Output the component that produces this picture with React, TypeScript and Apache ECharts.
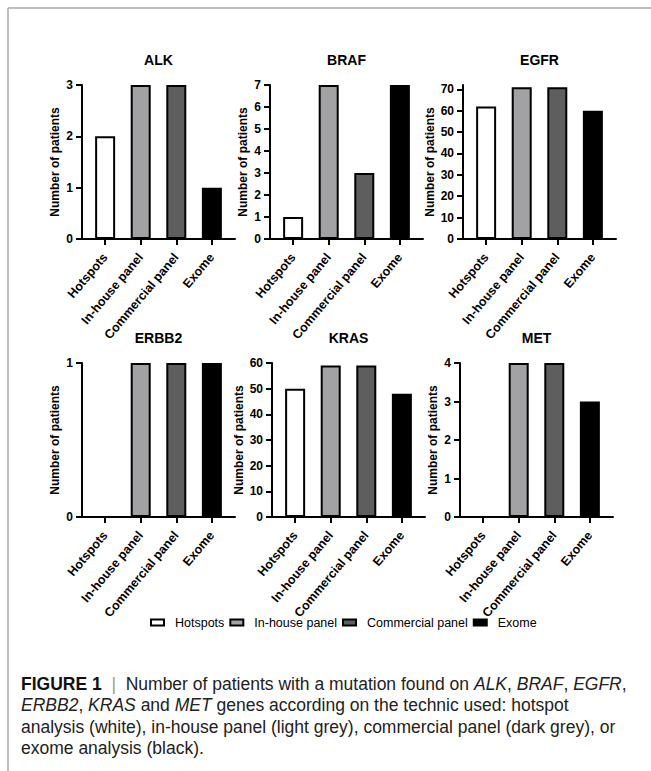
import React, { useEffect, useRef } from "react";
import * as echarts from "echarts";

const methods = ["Hotspots", "In-house panel", "Commercial panel", "Exome"];
const genes = ["ALK", "BRAF", "EGFR", "ERBB2", "KRAS", "MET"];
const alkValues = [2, 3, 3, 1];
const brafValues = [1, 7, 3, 7];
const egfrValues = [62, 71, 71, 60];
const erbb2Values = [0, 1, 1, 1];
const krasValues = [50, 59, 59, 48];
const metValues = [0, 4, 4, 3];
const yMaxes = [3, 7, 72, 1, 60, 4];
const alkTicks = [0, 1, 2, 3];
const brafTicks = [0, 1, 2, 3, 4, 5, 6, 7];
const egfrTicks = [0, 10, 20, 30, 40, 50, 60, 70];
const erbb2Ticks = [0, 1];
const krasTicks = [0, 10, 20, 30, 40, 50, 60];
const metTicks = [0, 1, 2, 3, 4];
const captionLines = [
  "{b|FIGURE 1}  {g||}  Number of patients with a mutation found on {i|ALK}, {i|BRAF}, {i|EGFR},",
  "{i|ERBB2}, {i|KRAS} and {i|MET} genes according on the technic used: hotspot",
  "analysis (white), in-house panel (light grey), commercial panel (dark grey), or",
  "exome analysis (black).",
];

const values = [alkValues, brafValues, egfrValues, erbb2Values, krasValues, metValues];
const ticks = [alkTicks, brafTicks, egfrTicks, erbb2Ticks, krasTicks, metTicks];
const colors = ["#ffffff", "#a2a2a5", "#5e5e5e", "#000000"];
const panelLeft = [82, 270, 463, 82, 272, 460];
const panelTop = [85, 85, 85, 363, 363, 363];
const panelW = 153;
const panelH = 154;
const FONT = "'Liberation Sans', Arial, sans-serif";
const CAP = 17.5;

export default function App() {
  const ref = useRef<HTMLDivElement>(null);
  useEffect(() => {
    document.body.style.margin = "0";
    const chart = echarts.init(ref.current!, null, { renderer: "svg" });
    const grids: any[] = [];
    const xAxes: any[] = [];
    const yAxes: any[] = [];
    const titles: any[] = [];
    const series: any[] = [];
    genes.forEach((g, p) => {
      grids.push({ left: panelLeft[p], top: panelTop[p], width: panelW, height: panelH });
      titles.push({
        text: g,
        left: panelLeft[p] + panelW / 2,
        top: panelTop[p] - 32,
        textAlign: "center",
        padding: 0,
        textStyle: { fontFamily: FONT, fontWeight: "bold", fontSize: 14, color: "#000" },
      });
      xAxes.push({
        type: "value",
        gridIndex: p,
        min: -0.65,
        max: 3.65,
        splitLine: { show: false },
        axisLine: { show: true, onZero: false, lineStyle: { color: "#000", width: 2 } },
        axisTick: { show: true, length: 6, lineStyle: { color: "#000", width: 2 }, customValues: [0, 1, 2, 3] },
        axisLabel: {
          customValues: [0, 1, 2, 3],
          rotate: 50,
          margin: 16,
          fontFamily: FONT,
          fontWeight: "bold",
          fontSize: 12.5,
          color: "#000",
          formatter: (v: number) => methods[Math.round(v)] ?? "",
        },
      });
      yAxes.push({
        type: "value",
        gridIndex: p,
        min: 0,
        max: yMaxes[p],
        splitLine: { show: false },
        axisLine: { show: true, onZero: false, lineStyle: { color: "#000", width: 2 } },
        axisTick: { show: true, length: 6, lineStyle: { color: "#000", width: 2 }, customValues: ticks[p] },
        axisLabel: {
          customValues: ticks[p],
          margin: 9,
          fontFamily: FONT,
          fontWeight: "bold",
          fontSize: 12,
          color: "#000",
        },
        name: "Number of patients",
        nameLocation: "middle",
        nameGap: p === 2 || p === 4 ? 27 : 21,
        nameTextStyle: { fontFamily: FONT, fontWeight: "bold", fontSize: 12, color: "#000" },
      });
      methods.forEach((m, k) => {
        series.push({
          type: "bar",
          name: m,
          xAxisIndex: p,
          yAxisIndex: p,
          barWidth: 20,
          barGap: "-100%",
          data: [[k, values[p][k]]],
          itemStyle: { color: colors[k], borderColor: "#000", borderWidth: 2 },
        });
      });
    });

    const captionRich = {
      b: { fontFamily: FONT, fontSize: CAP, fontWeight: "bold", fill: "#111" },
      i: { fontFamily: FONT, fontSize: CAP, fontStyle: "italic", fill: "#222" },
      g: { fontFamily: FONT, fontSize: CAP, fill: "#999" },
    };
    const graphics: any[] = [
      { type: "line", shape: { x1: 8, y1: 8, x2: 651, y2: 8 }, style: { stroke: "#aaa", lineWidth: 1.5 } },
      { type: "line", shape: { x1: 8, y1: 8, x2: 8, y2: 771 }, style: { stroke: "#aaa", lineWidth: 1.5 } },
    ];
    captionLines.forEach((line, i) => {
      graphics.push({
        type: "text",
        x: 21,
        y: 684 + i * 21.3,
        style: {
          text: line,
          fontFamily: FONT,
          fontSize: CAP,
          fill: "#222",
          verticalAlign: "middle",
          rich: captionRich,
        },
      });
    });

    chart.setOption({
      animation: false,
      backgroundColor: "#fff",
      title: titles,
      grid: grids,
      xAxis: xAxes,
      yAxis: yAxes,
      series,
      legend: {
        data: methods,
        left: 150,
        top: 616,
        padding: 0,
        icon: "rect",
        itemWidth: 13,
        itemHeight: 6,
        itemGap: 5,
        itemStyle: { borderColor: "#000", borderWidth: 2 },
        textStyle: { fontFamily: FONT, fontSize: 12.5, color: "#000", padding: [0, 0, 0, 6] },
      },
      graphic: graphics,
    });
    return () => chart.dispose();
  }, []);
  return <div ref={ref} style={{ width: 651, height: 771 }} />;
}
